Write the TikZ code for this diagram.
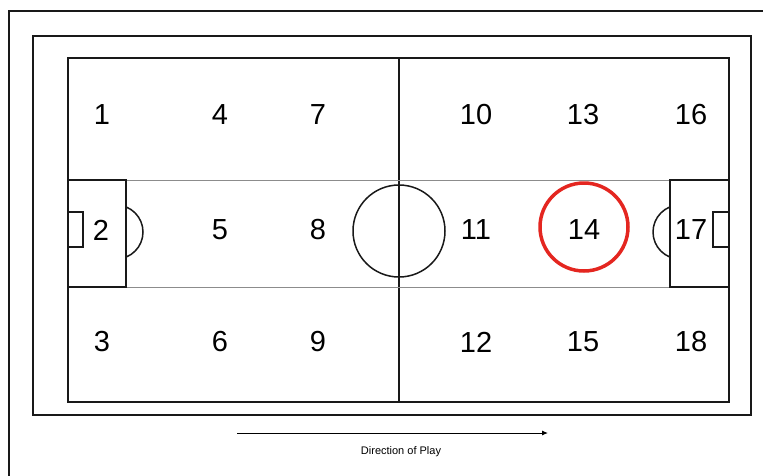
\documentclass[tikz,border=0pt]{standalone}
\usepackage{fontspec}
\setmainfont{Liberation Sans}
\usetikzlibrary{arrows.meta}
\definecolor{hlred}{RGB}{228,38,32}
\begin{document}
\begin{tikzpicture}[x=1pt,y=-1pt,
  frame/.style={draw=black!90,line width=2pt},
  pline/.style={draw=black!90,line width=1.5pt},
  thin/.style={draw=black!45,line width=0.8pt},
  num/.style={font=\fontsize{29}{31}\selectfont,inner sep=0pt},
  hl/.style={draw=hlred,line width=3.5pt}]
\useasboundingbox (0,0) rectangle (763,475);
\fill[white] (0,0) rectangle (763,475);
% image frame (top and left edges visible)
\draw[frame] (9,480) -- (9,11) -- (770,11);
% outer rectangle
\draw[frame] (33,36) rectangle (751,415);
% pitch
\draw[pline] (68,58) rectangle (729,402);
\draw[pline] (399,58) -- (399,402);
\draw[pline] (399,231) circle[radius=46];
% gray band lines
\draw[thin] (126,180) -- (670,180);
\draw[thin] (126,287) -- (670,287);
% left penalty area
\draw[pline] (68,180) rectangle (126,287);
\draw[pline] (68,212) rectangle (83,247);
% right penalty area
\draw[pline] (670,180) rectangle (729,287);
\draw[pline] (713,212) rectangle (729,247);
% arcs
\begin{scope}
\clip (126,150) rectangle (200,300);
\draw[pline] (116,232) circle[radius=27];
\end{scope}
\begin{scope}
\clip (600,150) rectangle (670,300);
\draw[pline] (680,232) circle[radius=27];
\end{scope}
% numbers
\node[num] (n1) at (102,115) {1};
\node[num] (n4) at (220,115) {4};
\node[num] (n7) at (318,115) {7};
\node[num] (n10) at (476,115) {10};
\node[num] (n13) at (583,115) {13};
\node[num] (n16) at (691,115) {16};
\node[num] (n2) at (101,230) {2};
\node[num] (n5) at (220,230) {5};
\node[num] (n8) at (318,230) {8};
\node[num] (n11) at (476,230) {11};
\node[num] (n14) at (584,230) {14};
\node[num] (n17) at (691,230) {17};
\node[num] (n3) at (102,342) {3};
\node[num] (n6) at (220,342) {6};
\node[num] (n9) at (318,342) {9};
\node[num] (n12) at (476,342) {12};
\node[num] (n15) at (583,342) {15};
\node[num] (n18) at (691,342) {18};
% highlight
\draw[hl] (584,227) circle[radius=44];
% direction arrow
\coordinate (a0) at (237,433);
\coordinate (a1) at (548,433);
\draw[line width=1pt,-{Latex[length=6pt,width=5pt]}] (a0) -- (a1);
\node[font=\fontsize{11}{13}\selectfont,inner sep=0pt] (dir) at (401,452) {Direction of Play};
\end{tikzpicture}
\end{document}
